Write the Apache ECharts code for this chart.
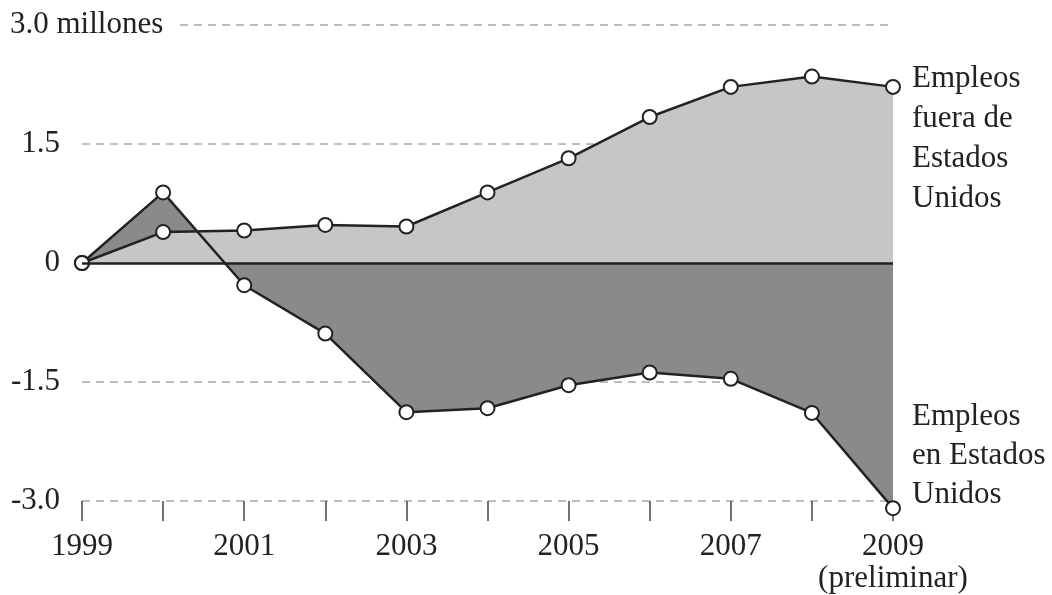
<!DOCTYPE html>
<html>
<head>
<meta charset="utf-8">
<script src="https://cdn.jsdelivr.net/npm/echarts@6/dist/echarts.min.js"></script>
<style>
  html, body { margin: 0; padding: 0; background: #fff; }
  #chart { width: 1052px; height: 595px; }
</style>
</head>
<body>
<div id="chart"></div>
<script>
const years = ['1999', '2000', '2001', '2002', '2003', '2004', '2005', '2006', '2007', '2008', '2009'];
// millions of jobs, change since 1999
const abroadJobs = [0, 0.39, 0.41, 0.48, 0.46, 0.89, 1.32, 1.84, 2.22, 2.35, 2.22];
const usJobs = [0, 0.89, -0.28, -0.89, -1.88, -1.83, -1.54, -1.38, -1.46, -1.89, -3.09];
const yTickLabels = { '3': '3.0 millones', '1.5': '1.5', '0': '0', '-1.5': '-1.5', '-3': '-3.0' };

const font = '"Liberation Serif", "DejaVu Serif", serif';
const ink = '#222';
const fs = 31;

document.addEventListener('DOMContentLoaded', () => {
  const chart = echarts.init(document.querySelector('#chart'));

  const pointStyle = {
    symbol: 'circle',
    symbolSize: 14,
    clip: false,
    itemStyle: { color: '#fff', borderColor: ink, borderWidth: 2 },
    lineStyle: { color: ink, width: 2.5 }
  };

  chart.setOption({
    animation: false,
    grid: { left: 82, right: 159, top: 25, bottom: 92 },
    xAxis: {
      type: 'category',
      data: years,
      boundaryGap: false,
      axisLine: { show: false, onZero: false },
      axisTick: { show: true, interval: 0, length: 20, lineStyle: { color: '#444', width: 1.5 } },
      axisLabel: {
        interval: 1,
        margin: 30,
        color: ink,
        fontFamily: font,
        fontSize: fs,
        lineHeight: 32,
        formatter: v => v === '2009' ? '2009\n(preliminar)' : v
      },
      splitLine: { show: false }
    },
    yAxis: {
      type: 'value',
      min: -3,
      max: 3,
      interval: 1.5,
      axisLine: { show: false },
      axisTick: { show: false },
      splitLine: { show: true, lineStyle: { color: '#a8a8a8', width: 1.5, type: [8, 6] } },
      axisLabel: {
        align: 'left',
        margin: 72,
        color: ink,
        fontFamily: font,
        fontSize: fs,
        formatter: v => {
          const t = yTickLabels[String(v)];
          return v === 3 ? '{t|' + t + '}' : '{n|' + t + '}';
        },
        rich: {
          t: { fontFamily: font, fontSize: fs, color: ink, backgroundColor: '#fff', padding: [0, 14, 0, 0] },
          n: { fontFamily: font, fontSize: fs, color: ink, width: 50, align: 'right' }
        }
      }
    },
    series: [
      {
        name: 'us-area',
        type: 'line',
        data: usJobs,
        z: 1,
        clip: false,
        showSymbol: false,
        lineStyle: { width: 0 },
        areaStyle: { color: '#8a8a8a', opacity: 1, origin: 'auto' },
        silent: true
      },
      {
        name: 'abroad-area',
        type: 'line',
        data: abroadJobs,
        z: 2,
        clip: false,
        showSymbol: false,
        lineStyle: { width: 0 },
        areaStyle: { color: '#c6c6c6', opacity: 1, origin: 'auto' },
        silent: true,
        markLine: {
          silent: true,
          symbol: 'none',
          label: { show: false },
          lineStyle: { color: ink, width: 2.5, type: 'solid' },
          data: [{ yAxis: 0 }]
        }
      },
      Object.assign({
        name: 'Empleos fuera de Estados Unidos',
        type: 'line',
        data: abroadJobs,
        z: 3,
        endLabel: {
          show: true,
          formatter: 'Empleos\nfuera de\nEstados\nUnidos',
          color: ink,
          fontFamily: font,
          fontSize: fs,
          lineHeight: 40,
          distance: 19,
          align: 'left',
          verticalAlign: 'top',
          offset: [0, -28]
        }
      }, pointStyle),
      Object.assign({
        name: 'Empleos en Estados Unidos',
        type: 'line',
        data: usJobs,
        z: 3,
        endLabel: {
          show: true,
          formatter: 'Empleos\nen Estados\nUnidos',
          color: ink,
          fontFamily: font,
          fontSize: fs,
          lineHeight: 39,
          distance: 19,
          align: 'left',
          verticalAlign: 'bottom',
          offset: [0, 6]
        }
      }, pointStyle)
    ]
  });
});
</script>
</body>
</html>
